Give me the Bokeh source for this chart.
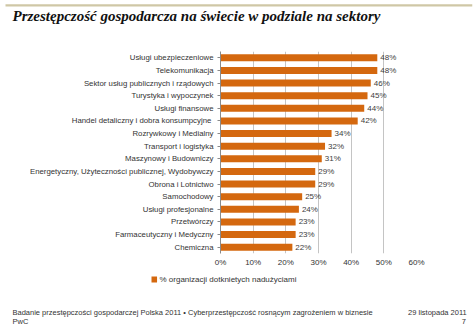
import glob
from bokeh.plotting import figure
from bokeh.models import (ColumnDataSource, Title, FixedTicker, CustomJSTickFormatter)
from bokeh.core.properties import value
from bokeh.embed import file_html
from bokeh.resources import INLINE

title_text = "Przestępczość gospodarcza  na świecie w podziale na sektory"
categories = [
    "Usługi ubezpieczeniowe",
    "Telekomunikacja",
    "Sektor usług publicznych i rządowych",
    "Turystyka i wypoczynek",
    "Usługi finansowe",
    "Handel  detaliczny i dobra konsumpcyjne",
    "Rozrywkowy i Medialny",
    "Transport i logistyka",
    "Maszynowy i Budowniczy",
    "Energetyczny, Użyteczności publicznej, Wydobywczy",
    "Obrona i Lotnictwo",
    "Samochodowy",
    "Usługi profesjonalne",
    "Przetwórczy",
    "Farmaceutyczny i Medyczny",
    "Chemiczna",
]
values = [48, 48, 46, 45, 44, 42, 34, 32, 31, 29, 29, 25, 24, 23, 23, 22]
x_ticks = [0, 10, 20, 30, 40, 50, 60]
legend_label = "% organizacji dotknietych nadużyciami"
footer_left = ["Badanie przestępczości gospodarczej Polska 2011 • Cyberprzestępczość rosnącym zagrożeniem w biznesie",
               "PwC"]
footer_right = ["29 listopada 2011", "7"]

ORANGE = "#d4680f"
FONT = "Liberation Sans"
FOOT_PX = 7.5
NBSP = "\u00a0"

_font = None
try:
    from PIL import ImageFont
    paths = glob.glob("/usr/share/fonts/**/LiberationSans-Regular.ttf", recursive=True)
    if paths:
        _font = ImageFont.truetype(paths[0], 100)
except Exception:
    _font = None


def text_w(s, px):
    if _font is not None:
        return _font.getlength(s) * px / 100.0
    return len(s) * 0.5 * px


def pad_line(left, right, x_left, x_right, px):
    gap = (x_right - x_left) - text_w(left, px) - text_w(right, px)
    n = max(1, int(round(gap / text_w(NBSP, px))))
    return left + NBSP * n + right


def spacer(px):
    return Title(text=" ", text_font_size="1px", standoff=px)


W, H = 474, 331
FL, FR, FT, FB = 220, 416, 51, 253

src = ColumnDataSource(dict(cat=categories, val=values,
                            lab=[f"{v}%" for v in values]))
p = figure(width=W, height=H, y_range=list(reversed(categories)),
           x_range=(0, 60), output_backend="svg", toolbar_location=None,
           min_border_left=FL, min_border_right=W - FR,
           min_border_top=FT, min_border_bottom=H - FB)
p.title.visible = False
p.outline_line_color = None

r = p.hbar(y="cat", right="val", height=0.56, left=0, source=src,
           fill_color=ORANGE, line_color=None)
p.text(x="val", y="cat", text="lab", source=src, x_offset=3,
       text_baseline="middle", text_align="left", text_font=value(FONT),
       text_font_size="8px", text_color="#404040")

p.xaxis.ticker = FixedTicker(ticks=x_ticks)
p.xaxis.formatter = CustomJSTickFormatter(code="return tick + '%';")
p.xaxis.axis_line_color = None
p.xaxis.major_tick_line_color = None
p.xaxis.minor_tick_line_color = None
p.xaxis.major_tick_out = 0
p.xaxis.minor_tick_out = 0
p.xaxis.major_label_text_font = FONT
p.xaxis.major_label_text_font_size = "8px"
p.xaxis.major_label_text_color = "#333333"
p.xaxis.major_label_standoff = 4

p.yaxis.axis_line_color = "#8a8a8a"
p.yaxis.major_tick_line_color = "#8a8a8a"
p.yaxis.major_tick_out = 3
p.yaxis.major_tick_in = 0
p.yaxis.major_label_text_font = FONT
p.yaxis.major_label_text_font_size = "7.8px"
p.yaxis.major_label_text_color = "#333333"
p.yaxis.major_label_standoff = 4

p.xgrid.grid_line_color = "#c4c4c4"
p.xgrid.ticker = FixedTicker(ticks=x_ticks[1:])
p.ygrid.grid_line_color = None

# ---- above panel: spacer, title, decorative rule (from frame outward) ----
p.add_layout(spacer(24), "above")
p.add_layout(Title(text=title_text, align="left", offset=12 - FL,
                   text_font="Liberation Serif", text_font_style="bold italic",
                   text_font_size="15px", text_color="#111111", standoff=0,
                   vertical_align="middle"), "above")
p.add_layout(Title(text=NBSP * 840, align="left", offset=5 - FL,
                   text_font_size="2px", background_fill_color="#cfc7a6",
                   standoff=0), "above")

# ---- below panel: axis, spacer, legend (label + swatch), spacer, footer ----
p.add_layout(spacer(7), "below")
p.add_layout(Title(text=legend_label, align="left", offset=159 - FL,
                   text_font=FONT, text_font_size="8px", text_color="#333333",
                   text_font_style="normal", standoff=-10,
                   vertical_align="top"), "below")
p.add_layout(Title(text=NBSP * 4, align="left", offset=151 - FL,
                   text_font=FONT, text_font_size="5px", text_color=ORANGE,
                   background_fill_color=ORANGE, text_font_style="normal",
                   standoff=-8, vertical_align="top"), "below")
p.add_layout(spacer(23), "below")
for i, (l, rr) in enumerate(zip(footer_left, footer_right)):
    p.add_layout(Title(text=pad_line(l, rr, 12, 466, FOOT_PX), align="left",
                       offset=12 - FL, text_font=FONT,
                       text_font_size=f"{FOOT_PX}px", text_color="#333333",
                       text_font_style="normal", standoff=0 if i == 0 else -3,
                       vertical_align="middle"), "below")

open("out.html", "w").write(file_html(p, INLINE))
